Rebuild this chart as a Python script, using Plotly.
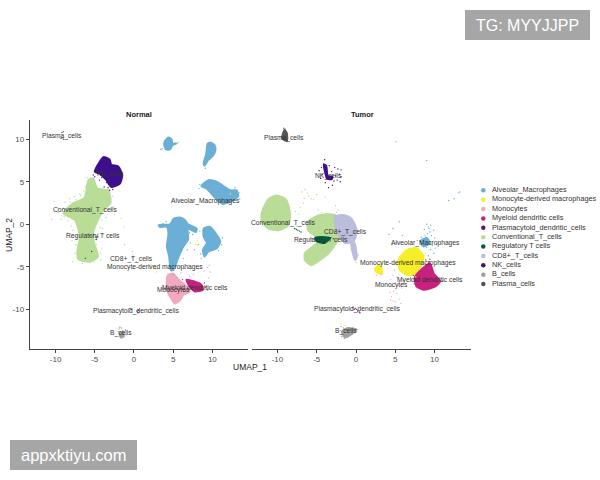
import plotly.graph_objects as go

FONT = "Liberation Sans"
W, H = 600, 480

cell_types = [
    "Alveolar_Macrophages", "Monocyte-derived macrophages", "Monocytes",
    "Myeloid dendritic cells", "Plasmacytoid_dendritic_cells", "Conventional_T_cells",
    "Regulatory T cells", "CD8+_T_cells", "NK_cells", "B_cells", "Plasma_cells",
]
colors = ["#6baed6", "#f7ee2a", "#f2a9c0", "#c7207f", "#6a0f78", "#b9dc96",
          "#00633a", "#bcbddc", "#3d0f8c", "#a0a0a0", "#555555"]

# Dense cluster outlines in UMAP coordinates, one list per island
normal_blobs = {
    "Conventional_T_cells": [[(-5.8,5.2),(-5.2,5.4),(-4.7,4.2),(-3.3,4.0),(-3.0,2.5),(-3.9,1.7),(-4.8,0.1),(-5.2,-0.9),
                              (-5.1,-2.2),(-4.6,-3.8),(-5.6,-4.4),(-7.1,-4.1),(-7.2,-3.0),(-6.9,-1.5),(-7.5,0.5),
                              (-9.0,1.3),(-7.7,2.5),(-6.3,3.1)]],
    "Alveolar_Macrophages": [
        [(3.9,9.7),(4.4,10.2),(4.8,10.0),(4.9,9.5),(5.4,9.5),(4.9,9.3),(4.6,8.8),(4.1,8.8),(3.9,9.2)],
        [(9.4,9.5),(9.8,9.6),(10.3,9.3),(10.4,8.7),(10.0,8.0),(9.5,7.6),(9.0,6.9),(8.9,7.2),(9.2,8.2),(9.3,8.9)],
        [(8.6,4.5),(9.5,5.2),(10.6,5.0),(11.4,4.5),(12.3,4.0),(13.1,4.0),(13.3,3.3),(12.7,2.9),(11.4,2.4),(10.6,2.9),(9.9,3.6),(9.3,4.2)],
        [(3.2,-0.1),(4.6,0.0),(5.1,0.7),(5.9,0.8),(6.5,0.5),(6.9,0.0),(8.0,-0.5),(7.9,-0.9),(6.9,-0.5),(6.9,-1.8),(6.3,-2.6),
         (5.7,-3.8),(5.0,-5.4),(4.7,-5.4),(4.5,-3.8),(4.2,-2.6),(4.4,-1.1),(4.2,-0.3),(3.3,-0.3)],
        [(8.9,-0.5),(9.7,-0.3),(10.3,-0.9),(11.0,-2.0),(10.6,-2.8),(9.5,-3.2),(9.0,-3.8),(8.8,-3.0),(9.3,-2.2),(8.9,-1.5)],
    ],
    "Monocytes": [[(4.3,-6.0),(5.0,-5.8),(5.7,-6.5),(6.7,-7.3),(7.1,-7.9),(6.3,-8.3),(5.9,-8.9),(5.2,-9.3),(4.6,-8.5),(4.2,-7.7)]],
    "Myeloid dendritic cells": [[(6.7,-6.5),(7.6,-6.7),(8.6,-7.1),(8.8,-7.7),(7.8,-7.9),(7.1,-7.3)]],
    "NK_cells": [[(-4.6,7.0),(-3.9,7.9),(-3.1,7.6),(-2.9,7.0),(-2.0,6.8),(-1.5,5.8),(-1.8,4.8),(-2.9,4.4),(-3.5,5.2),(-4.3,5.9),(-5.0,6.2)]],
    "B_cells": [[(-1.8,-12.8),(-1.4,-12.7),(-1.3,-13.2),(-1.7,-13.3)]],
}
tumor_blobs = {
    "Conventional_T_cells": [
        [(-12.0,1.3),(-11.2,2.9),(-10.1,3.4),(-8.9,2.9),(-8.4,1.3),(-8.6,-0.1),(-9.9,-0.7),(-11.1,-0.5),(-12.0,0.3)],
        [(-6.1,0.3),(-4.6,1.1),(-2.7,1.1),(-2.0,-0.1),(-2.3,-1.8),(-3.5,-3.4),(-5.7,-4.8),(-6.5,-4.2),(-6.5,-3.4),(-5.0,-2.2),(-5.0,-1.5),(-6.1,-0.7)],
    ],
    "CD8+_T_cells": [
        [(-2.7,0.9),(-1.6,1.1),(-0.6,0.7),(0.1,-0.7),(-0.3,-2.0),(-1.4,-2.2),(-2.3,-1.1)],
        [(-0.6,-2.0),(-0.2,-2.2),(0.1,-3.8),(-0.1,-4.2),(-0.5,-3.0)],
    ],
    "Regulatory T cells": [[(-5.2,-1.6),(-4.6,-1.5),(-3.3,-1.6),(-4.0,-2.2),(-5.0,-2.0)]],
    "Monocyte-derived macrophages": [
        [(5.4,-4.2),(6.5,-3.0),(7.7,-2.8),(8.6,-3.8),(8.2,-5.0),(7.5,-5.8),(6.7,-6.0),(5.6,-5.4)],
        [(2.4,-5.2),(3.1,-4.8),(3.3,-5.8),(2.6,-5.6)],
    ],
    "Myeloid dendritic cells": [[(7.5,-6.2),(9.4,-4.6),(9.9,-5.8),(10.7,-6.7),(10.1,-7.3),(8.6,-7.7),(7.7,-7.3)]],
    "Alveolar_Macrophages": [[(8.2,-2.0),(9.0,-1.6),(9.4,-2.2),(8.6,-2.6)]],
    "NK_cells": [[(-4.1,7.0),(-3.8,6.9),(-3.6,5.7),(-3.0,5.6),(-3.1,5.3),(-3.7,5.4),(-3.9,6.0)]],
    "Plasma_cells": [[(-9.4,10.1),(-9.1,11.1),(-8.8,10.7),(-8.8,9.8)]],
    "B_cells": [[(-1.8,-12.6),(-1.0,-12.2),(0.1,-12.4),(-1.4,-13.3)]],
}

# Individual cells lying outside the dense islands
normal_cells = {
    "Alveolar_Macrophages": [(3.4,8.8),(3.6,8.9),(3.1,-0.1),(7.5,-1.2),(8.2,-2.4),(7.7,-3.0),(8.5,-3.5),(5.0,-5.9),(6.3,-4.0),
                             (8.4,-0.8),(11.3,-1.6),(13.4,3.7),(12.9,4.3),(8.4,4.7),(9.1,6.6),(6.8,-3.0),(7.2,-2.2),(8.6,-4.0),(5.9,-5.0),
                             (7.1,-1.0),(7.4,-0.4),(3.7,0.1),(4.1,0.3),(11.2,-2.4),(10.8,-3.1),(12.0,2.5),(13.5,3.0),(8.3,4.2),(5.6,9.6)],
    "Monocyte-derived macrophages": [(2.2,-4.7),(2.6,-4.9),(2.8,-5.3),(2.9,-5.6),(2.7,-5.1),(7.9,-2.4),(8.1,-1.9),(12.3,3.6)],
    "Monocytes": [(6.5,-5.2),(7.1,-6.1),(8.9,-5.5),(9.4,-5.1),(9.5,-6.3),(5.6,-9.1),(6.0,-5.7),(7.6,-5.9),(8.3,-5.2),(9.7,-5.6),(9.6,-4.8)],
    "Myeloid dendritic cells": [(6.2,-6.5),(9.1,-7.4),(9.4,-7.7),(6.6,-7.8),(9.0,-6.9)],
    "Plasmacytoid_dendritic_cells": [(-0.5,-9.9),(-0.3,-10.0),(0.4,-10.2),(0.5,-10.4),(0.6,-10.1)],
    "Conventional_T_cells": [(-10.2,2.7),(-9.6,1.9),(-10.5,0.6),(-9.3,0.6),(-8.8,2.6),(-8.4,0.4),(-8.0,-0.2),(-8.5,-1.0),(-7.9,-1.9),
                             (-4.0,-0.5),(-3.6,0.8),(-2.5,1.2),(-1.6,0.7),(-1.3,-0.3),(-3.3,2.9),(-2.6,2.1),(-7.6,3.3),(-6.9,3.6),
                             (-8.2,3.0),(-4.1,-2.8),(-3.9,-1.2),(-7.5,-3.4),(-5.9,5.5),(-7.8,-4.4),(-4.2,-4.2),(-5.0,-4.5),(-6.6,-4.6),
                             (-9.0,1.9),(-9.7,1.4),(-0.2,-3.2),(-0.1,-3.6),(-9.2,1.0),(-8.6,1.9),(-8.9,0.9),(-8.1,2.6),(-7.4,2.9),
                             (-6.8,3.4),(-6.4,3.9),(-6.2,4.4),(-2.7,3.3),(-2.9,1.8),(-3.4,1.2),(-4.3,-0.4),(-4.6,-1.1),(-4.8,-2.4),
                             (-4.3,-3.4),(-7.4,-2.4),(-7.5,-1.4),(-7.8,-0.7),(-7.9,0.6),(-4.1,0.5)],
    "Regulatory T cells": [(-5.1,-1.2),(-4.9,-1.5),(-4.8,-1.8),(-5.6,-1.3),(-4.6,-1.5),(-6.2,-4.0),(-5.4,-3.2)],
    "CD8+_T_cells": [(-0.2,-3.9),(0.3,-4.4),(-1.2,-2.4)],
    "NK_cells": [(-3.8,4.4),(-3.5,4.9),(-4.1,5.5),(-2.7,4.1),(-3.9,5.9),(-5.2,5.8),(-3.1,4.0),(-4.4,5.2),(-3.3,4.3),(-5.0,5.6)],
    "B_cells": [(-1.9,-12.3),(-1.6,-12.2),(-1.4,-12.5),(-1.2,-12.7),(-1.1,-12.4),(-2.0,-12.6),(-1.8,-12.1),(-1.0,-13.0)],
    "Plasma_cells": [(-9.2,10.8),(-9.0,10.9),(-9.1,10.2),(-9.3,10.1),(-9.0,10.0)],
}
tumor_cells = {
    "Alveolar_Macrophages": [(9.0,0.0),(9.3,-0.5),(9.5,-0.1),(8.7,-0.6),(9.9,-0.7),(9.1,-1.1),(9.6,-1.3),(10.0,-1.6),(8.3,-1.5),
                             (8.9,-1.9),(9.5,-2.2),(10.3,-2.3),(9.0,-2.7),(9.5,-3.0),(9.9,-3.4),(9.2,-3.7),(7.8,-1.9),(8.3,-2.4),
                             (5.5,0.3),(4.7,-0.5),(4.2,-1.2),(5.1,-2.2),(5.9,-1.3),(4.6,-2.4),(12.5,3.0),(13.0,3.7),(13.2,3.8),
                             (11.8,2.8),(9.0,7.5),(5.1,9.7),(9.4,-0.9),(8.8,-1.3),(10.1,-2.8),(9.7,-2.5),(9.2,-0.3)],
    "Monocyte-derived macrophages": [(3.4,-5.2),(8.8,-4.6),(5.1,-4.6),(8.9,-3.4),(7.6,-6.2),(-1.4,-11.9),(-1.9,-11.7)],
    "Monocytes": [(4.9,-5.4),(4.7,-6.0),(4.4,-6.5),(5.2,-6.2),(5.0,-6.9),(4.6,-7.3),(4.3,-8.0),(4.5,-8.5),(5.2,-8.1),(5.5,-8.8),
                  (5.7,-9.3),(4.7,-9.0),(5.8,-7.5),(6.0,-6.6),(4.4,-8.9),(5.0,-9.1),(2.6,-6.0),(3.2,-5.9),(5.4,-7.2),(4.8,-7.9)],
    "Myeloid dendritic cells": [(8.9,-4.2),(9.3,-4.4),(7.3,-6.0),(11.0,-6.7),(9.4,-4.1),(7.4,-7.0)],
    "Plasmacytoid_dendritic_cells": [(-0.4,-9.8),(-0.2,-10.0),(0.1,-10.0),(0.2,-10.2),(0.4,-10.3),(0.5,-10.4),(-0.1,-9.9)],
    "Conventional_T_cells": [(-6.5,4.1),(-6.2,3.7),(-6.0,3.3),(-5.7,3.0),(-6.6,3.1),(-5.4,2.9),(-7.1,2.0),(-7.3,1.2),(-6.7,2.5),
                             (-4.8,1.7),(-4.4,1.4),(-7.7,1.5),(-7.5,-0.2),(-3.9,3.2),(-6.9,3.8),(-5.0,3.5)],
    "Regulatory T cells": [(-7.8,-0.5),(-7.6,-0.6),(-7.4,-0.7),(-7.2,-0.8),(-7.0,-0.9),(-5.6,-1.7),(-2.9,-1.7)],
    "CD8+_T_cells": [(-2.6,2.2),(-2.3,1.7),(0.0,-4.5),(-0.6,-2.9),(-2.5,1.4),(0.3,-3.6)],
    "NK_cells": [(-4.1,7.1),(-4.7,6.3),(-4.5,5.4),(-2.3,6.5),(-2.1,5.9),(-1.9,6.4),(-2.8,5.1),(-3.0,4.6),(-3.9,4.9),(-2.0,5.0),
                 (-4.3,5.9),(-2.7,6.7),(-3.4,6.9),(-2.4,5.2),(-4.0,7.6),(-3.1,6.2),(-2.6,5.7),(-4.4,6.7),(-3.5,4.3),(-1.9,5.6)],
    "B_cells": [(-1.9,-12.0),(-1.6,-12.2),(-1.8,-13.2),(-1.5,-13.4),(-0.4,-12.2),(-2.0,-12.5)],
    "Plasma_cells": [(-9.2,11.3),(-9.0,11.2),(-9.5,10.3),(-8.7,10.2)],
}

# Cluster names placed at their centroids
normal_labels = [("Plasma_cells",-9.2,10.4),("NK_cells",-3.0,5.9),("Alveolar_Macrophages",9.15,2.75),
                 ("Conventional_T_cells",-6.2,1.65),("Regulatory T cells",-5.2,-1.4),("CD8+_T_cells",-0.3,-4.1),
                 ("Monocyte-derived macrophages",2.7,-5.0),("Myeloid dendritic cells",7.8,-7.5),("Monocytes",5.0,-7.7),
                 ("Plasmacytoid_dendritic_cells",0.3,-10.2),("B_cells",-1.7,-12.8)]
tumor_labels = [("Plasma_cells",-9.15,10.2),("NK_cells",-3.5,5.7),("Conventional_T_cells",-9.2,0.2),
                ("CD8+_T_cells",-1.3,-0.9),("Regulatory T cells",-4.5,-1.9),("Alveolar_Macrophages",8.8,-2.2),
                ("Monocyte-derived macrophages",6.6,-4.5),("Myeloid dendritic cells",9.4,-6.5),("Monocytes",4.5,-7.1),
                ("Plasmacytoid_dendritic_cells",0.2,-10.0),("B_cells",-1.3,-12.6)]

x_ticks = [-10, -5, 0, 5, 10]
y_ticks = [-10, -5, 0, 5, 10]
x_range_normal = [-13.3, 14.55]
x_range_tumor = [-13.2, 14.6]
y_range = [-14.63, 12.27]

color_of = dict(zip(cell_types, colors))
fig = go.Figure()

def add_panel(blobs, cells, xaxis):
    for name in cell_types:
        for outline in blobs.get(name, []):
            xs = [p[0] for p in outline] + [outline[0][0]]
            ys = [p[1] for p in outline] + [outline[0][1]]
            fig.add_trace(go.Scatter(x=xs, y=ys, xaxis=xaxis, yaxis="y", mode="lines", fill="toself",
                                     fillcolor=color_of[name], showlegend=False, hoverinfo="skip",
                                     line=dict(color=color_of[name], width=2, shape="spline", smoothing=0.6)))
    for name in cell_types:
        pts = cells.get(name, [])
        fig.add_trace(go.Scatter(x=[p[0] for p in pts], y=[p[1] for p in pts], xaxis=xaxis, yaxis="y",
                                 mode="markers", showlegend=False,
                                 marker=dict(color=color_of[name], size=1.4), hoverinfo="skip"))

add_panel(normal_blobs, normal_cells, "x")
add_panel(tumor_blobs, tumor_cells, "x2")

# Key column: one dot and one name per row, on its own hidden axes
key_rows = list(range(len(cell_types)))
fig.add_trace(go.Scatter(x=[5.3] * len(cell_types), y=key_rows, xaxis="x3", yaxis="y3", mode="markers",
                         marker=dict(color=colors, size=4.5), showlegend=False, hoverinfo="skip"))
fig.add_trace(go.Scatter(x=[14] * len(cell_types), y=key_rows, xaxis="x3", yaxis="y3", mode="text",
                         text=cell_types, textposition="middle right", cliponaxis=False,
                         textfont=dict(family=FONT, size=7.3, color="#333333"), showlegend=False, hoverinfo="skip"))

annotations = []
for labels, xref in ((normal_labels, "x"), (tumor_labels, "x2")):
    for text, lx, ly in labels:
        annotations.append(dict(text=text, x=lx, y=ly, xref=xref, yref="y", showarrow=False,
                                font=dict(family=FONT, size=6.7, color="#333333")))

def paper_text(text, px, py, size, color="#1a1a1a", bold=False, angle=0):
    annotations.append(dict(text=f"<b>{text}</b>" if bold else text, x=px / W, y=1 - py / H, xref="paper", yref="paper",
                            xanchor="center", yanchor="middle", showarrow=False, textangle=angle,
                            font=dict(family=FONT, size=size, color=color)))

paper_text("Normal", 138.5, 114.5, 7.5, bold=True)
paper_text("Tumor", 362, 114.5, 7.5, bold=True)
paper_text("UMAP_1", 250, 367, 8.5)
paper_text("UMAP_2", 9, 235, 8.5, angle=-90)
paper_text("TG: MYYJJPP", 527, 25, 16, color="#ffffff")
paper_text("appxktiyu.com", 73.5, 455, 16.5, color="#ffffff")

# Grey credit boxes behind the white captions
box = dict(type="rect", xref="paper", yref="paper", fillcolor="#a6a6a6", line_width=0, layer="below")
shapes = [dict(box, x0=465 / W, x1=590 / W, y0=1 - 40 / H, y1=1 - 10 / H),
          dict(box, x0=10 / W, x1=137 / W, y0=1 - 470 / H, y1=1 - 440 / H)]

x_style = dict(showgrid=False, zeroline=False, showline=True, linecolor="#444444", linewidth=1, ticks="outside",
               ticklen=3, tickcolor="#444444", tickvals=x_ticks, ticktext=[str(t) for t in x_ticks],
               tickfont=dict(family=FONT, size=8, color="#4d4d4d"))
hidden = dict(visible=False, showgrid=False, zeroline=False)
fig.update_layout(
    width=W, height=H, margin=dict(l=0, r=0, t=0, b=0), paper_bgcolor="white", plot_bgcolor="rgba(0,0,0,0)",
    xaxis=dict(x_style, domain=[29.7 / W, 248 / W], range=x_range_normal),
    xaxis2=dict(x_style, domain=[252.3 / W, 470.7 / W], range=x_range_tumor, anchor="y"),
    yaxis=dict(domain=[1 - 348.7 / H, 1 - 120 / H], range=y_range, showgrid=False, zeroline=False, showline=True,
               linecolor="#444444", linewidth=1, ticks="outside", ticklen=3, tickcolor="#444444",
               tickvals=y_ticks, ticktext=[str(t) for t in y_ticks],
               tickfont=dict(family=FONT, size=8, color="#4d4d4d")),
    xaxis3=dict(hidden, domain=[478 / W, 1], range=[0, 122], anchor="y3"),
    yaxis3=dict(hidden, domain=[1 - 288.7 / H, 1 - 185.6 / H], range=[10.5, -0.5], anchor="x3"),
    showlegend=False, annotations=annotations, shapes=shapes,
)
fig.write_html("out.html", config=dict(displayModeBar=False))
